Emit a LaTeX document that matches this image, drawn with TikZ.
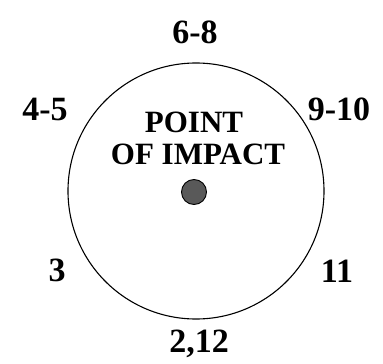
\documentclass[tikz,border=0pt]{standalone}
\usepackage{fontspec}
\setmainfont{Liberation Serif}
\usepackage{tikz}
\usetikzlibrary{positioning}

\tikzset{
	score/.style={font=\fontsize{34}{34}\selectfont\bfseries, inner sep=0pt},
	caption/.style={font=\fontsize{31}{32}\selectfont\bfseries, inner sep=0pt}
}

\begin{document}
\begin{tikzpicture}[x=1pt, y=-1pt]
		\useasboundingbox (0,0) rectangle (383,364);
		% Draw target circle
		\node[draw, circle, line width=1.1pt, minimum size=256pt, inner sep=0pt] (target) at (196,191) {};
		% Point of impact
		\node[draw, circle, fill=black!65, line width=0.9pt, minimum size=25pt, inner sep=0pt] (impact) at (194,192) {};
		\node[caption] (poitop) at (194,122) {POINT};
		\node[caption] (poibot) at (198,154) {OF IMPACT};

		% Scores round the circle
		\node[score] (top) at (195,32) {6-8};
		\node[score] (upleft) at (45,109) {4-5};
		\node[score] (upright) at (339,109) {9-10};
		\node[score] (lowleft) at (57,270) {3};
		\node[score] (lowright) at (337,271) {11};
		\node[score, anchor=base] (bottom) at (199,352) {2,12};
	\end{tikzpicture}
\end{document}
